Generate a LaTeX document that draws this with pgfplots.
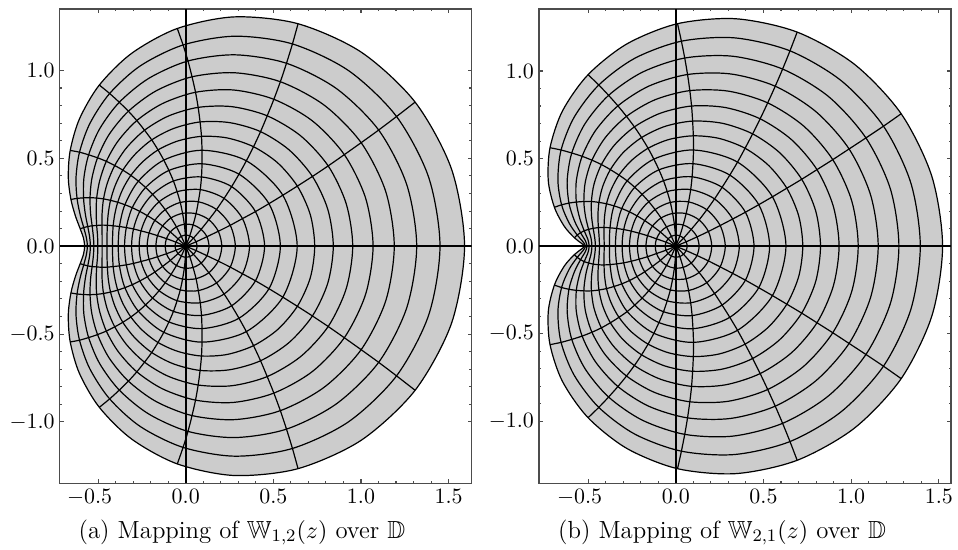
\documentclass[border=0pt]{standalone}
\usepackage[no-math]{fontspec}
\usepackage{pgfplots}
\pgfplotsset{compat=1.18}
\usepackage{amssymb}

\pgfplotsset{
  mapframe/.style={
    scale only axis, width=188.1pt, height=216.6pt,
    axis line style={black!70, line width=0.5pt},
    tick style={black!70, line width=0.5pt},
    tick align=inside,
    major tick length=1.9pt, minor tick length=1.1pt,
    minor x tick num=4, minor y tick num=4,
    xtick={-0.5,0,0.5,1,1.5},
    xticklabels={$\llap{$-$}0.5$,$0.0$,$0.5$,$1.0$,$1.5$},
    ytick={-1,-0.5,0,0.5,1},
    yticklabels={$-1.0$,$-0.5$,$0.0$,$0.5$,$1.0$},
    xticklabel style={inner sep=2.3pt},
    yticklabel style={inner sep=2.1pt},
  },
  region/.style={fill=gray!40, draw=none, smooth cycle},
  ring/.style={black, line width=0.55pt, smooth cycle},
  gridline/.style={black, line width=0.55pt, smooth},
  axisline/.style={black, line width=0.85pt},
}

\begin{document}
\begin{tikzpicture}
\useasboundingbox (-27.26pt,-30.0pt) rectangle (410.1pt,220.7pt);

% ---------------- (a) W_{1,2} ----------------
\begin{axis}[mapframe, at={(0pt,0pt)}, anchor=south west,
  xmin=-0.719, xmax=1.632, ymin=-1.350, ymax=1.350]
\addplot[region] coordinates {(1.591,0) (1.517,0.438) (1.309,0.820) (1.002,1.104) (0.641,1.266) (0.278,1.305) (-0.048,1.239) (-0.308,1.098) (-0.493,0.917) (-0.606,0.725) (-0.659,0.545) (-0.670,0.391) (-0.655,0.266) (-0.629,0.171) (-0.602,0.099) (-0.583,0.045) (-0.577,0) (-0.583,-0.045) (-0.602,-0.099) (-0.629,-0.171) (-0.655,-0.266) (-0.670,-0.391) (-0.659,-0.545) (-0.606,-0.725) (-0.493,-0.917) (-0.308,-1.098) (-0.048,-1.239) (0.278,-1.305) (0.641,-1.266) (1.002,-1.104) (1.309,-0.820) (1.517,-0.438)};
% circles |z| = k/16
\addplot[ring] coordinates {(1.591,0) (1.517,0.438) (1.309,0.820) (1.002,1.104) (0.641,1.266) (0.278,1.305) (-0.048,1.239) (-0.308,1.098) (-0.493,0.917) (-0.606,0.725) (-0.659,0.545) (-0.670,0.391) (-0.655,0.266) (-0.629,0.171) (-0.602,0.099) (-0.583,0.045) (-0.577,0) (-0.583,-0.045) (-0.602,-0.099) (-0.629,-0.171) (-0.655,-0.266) (-0.670,-0.391) (-0.659,-0.545) (-0.606,-0.725) (-0.493,-0.917) (-0.308,-1.098) (-0.048,-1.239) (0.278,-1.305) (0.641,-1.266) (1.002,-1.104) (1.309,-0.820) (1.517,-0.438)};
\addplot[ring] coordinates {(1.451,0) (1.386,0.393) (1.203,0.738) (0.931,0.998) (0.609,1.151) (0.282,1.195) (-0.015,1.145) (-0.258,1.027) (-0.434,0.869) (-0.547,0.698) (-0.606,0.535) (-0.626,0.391) (-0.620,0.272) (-0.602,0.178) (-0.582,0.106) (-0.567,0.049) (-0.561,0) (-0.567,-0.049) (-0.582,-0.106) (-0.602,-0.178) (-0.620,-0.272) (-0.626,-0.391) (-0.606,-0.535) (-0.547,-0.698) (-0.434,-0.869) (-0.258,-1.027) (-0.015,-1.145) (0.282,-1.195) (0.609,-1.151) (0.931,-0.998) (1.203,-0.738) (1.386,-0.393)};
\addplot[ring] coordinates {(1.318,0) (1.261,0.351) (1.101,0.661) (0.860,0.897) (0.575,1.041) (0.282,1.089) (0.013,1.054) (-0.211,0.955) (-0.379,0.819) (-0.491,0.668) (-0.554,0.520) (-0.581,0.388) (-0.583,0.275) (-0.573,0.184) (-0.559,0.112) (-0.548,0.052) (-0.544,0) (-0.548,-0.052) (-0.559,-0.112) (-0.573,-0.184) (-0.583,-0.275) (-0.581,-0.388) (-0.554,-0.520) (-0.491,-0.668) (-0.379,-0.819) (-0.211,-0.955) (0.013,-1.054) (0.282,-1.089) (0.575,-1.041) (0.860,-0.897) (1.101,-0.661) (1.261,-0.351)};
\addplot[ring] coordinates {(1.190,0) (1.141,0.312) (1.001,0.589) (0.791,0.802) (0.540,0.936) (0.279,0.987) (0.036,0.964) (-0.169,0.884) (-0.327,0.768) (-0.437,0.636) (-0.503,0.503) (-0.536,0.382) (-0.546,0.276) (-0.543,0.188) (-0.534,0.116) (-0.527,0.055) (-0.524,0) (-0.527,-0.055) (-0.534,-0.116) (-0.543,-0.188) (-0.546,-0.276) (-0.536,-0.382) (-0.503,-0.503) (-0.437,-0.636) (-0.327,-0.768) (-0.169,-0.884) (0.036,-0.964) (0.279,-0.987) (0.540,-0.936) (0.791,-0.802) (1.001,-0.589) (1.141,-0.312)};
\addplot[ring] coordinates {(1.069,0) (1.026,0.275) (0.905,0.521) (0.723,0.713) (0.503,0.836) (0.273,0.889) (0.056,0.876) (-0.132,0.812) (-0.279,0.715) (-0.385,0.600) (-0.453,0.483) (-0.491,0.372) (-0.508,0.274) (-0.511,0.190) (-0.508,0.118) (-0.503,0.057) (-0.502,0) (-0.503,-0.057) (-0.508,-0.118) (-0.511,-0.190) (-0.508,-0.274) (-0.491,-0.372) (-0.453,-0.483) (-0.385,-0.600) (-0.279,-0.715) (-0.132,-0.812) (0.056,-0.876) (0.273,-0.889) (0.503,-0.836) (0.723,-0.713) (0.905,-0.521) (1.026,-0.275)};
\addplot[ring] coordinates {(0.953,0) (0.916,0.241) (0.813,0.457) (0.656,0.628) (0.465,0.742) (0.264,0.794) (0.071,0.790) (-0.098,0.741) (-0.235,0.660) (-0.336,0.562) (-0.405,0.459) (-0.447,0.360) (-0.469,0.269) (-0.477,0.189) (-0.478,0.120) (-0.477,0.058) (-0.477,0) (-0.477,-0.058) (-0.478,-0.120) (-0.477,-0.189) (-0.469,-0.269) (-0.447,-0.360) (-0.405,-0.459) (-0.336,-0.562) (-0.235,-0.660) (-0.098,-0.741) (0.071,-0.790) (0.264,-0.794) (0.465,-0.742) (0.656,-0.628) (0.813,-0.457) (0.916,-0.241)};
\addplot[ring] coordinates {(0.842,0) (0.811,0.209) (0.723,0.397) (0.590,0.548) (0.427,0.652) (0.252,0.703) (0.082,0.707) (-0.069,0.670) (-0.194,0.605) (-0.290,0.522) (-0.359,0.433) (-0.403,0.344) (-0.429,0.261) (-0.442,0.186) (-0.447,0.119) (-0.449,0.058) (-0.449,0) (-0.449,-0.058) (-0.447,-0.119) (-0.442,-0.186) (-0.429,-0.261) (-0.403,-0.344) (-0.359,-0.433) (-0.290,-0.522) (-0.194,-0.605) (-0.069,-0.670) (0.082,-0.707) (0.252,-0.703) (0.427,-0.652) (0.590,-0.548) (0.723,-0.397) (0.811,-0.209)};
\addplot[ring] coordinates {(0.736,0) (0.711,0.179) (0.637,0.342) (0.525,0.474) (0.387,0.566) (0.237,0.616) (0.090,0.625) (-0.044,0.599) (-0.158,0.548) (-0.247,0.479) (-0.313,0.403) (-0.359,0.325) (-0.388,0.250) (-0.405,0.180) (-0.414,0.116) (-0.417,0.057) (-0.418,0) (-0.417,-0.057) (-0.414,-0.116) (-0.405,-0.180) (-0.388,-0.250) (-0.359,-0.325) (-0.313,-0.403) (-0.247,-0.479) (-0.158,-0.548) (-0.044,-0.599) (0.090,-0.625) (0.237,-0.616) (0.387,-0.566) (0.525,-0.474) (0.637,-0.342) (0.711,-0.179)};
\addplot[ring] coordinates {(0.636,0) (0.554,0.290) (0.346,0.486) (0.093,0.546) (-0.125,0.490) (-0.270,0.370) (-0.347,0.236) (-0.378,0.112) (-0.385,0) (-0.378,-0.112) (-0.347,-0.236) (-0.270,-0.370) (-0.125,-0.490) (0.093,-0.546) (0.346,-0.486) (0.554,-0.290)};
\addplot[ring] coordinates {(0.540,0) (0.475,0.242) (0.304,0.410) (0.093,0.469) (-0.096,0.431) (-0.229,0.334) (-0.305,0.219) (-0.339,0.106) (-0.349,0) (-0.339,-0.106) (-0.305,-0.219) (-0.229,-0.334) (-0.096,-0.431) (0.093,-0.469) (0.304,-0.410) (0.475,-0.242)};
\addplot[ring] coordinates {(0.450,0) (0.398,0.197) (0.262,0.339) (0.090,0.394) (-0.070,0.371) (-0.189,0.295) (-0.262,0.198) (-0.298,0.098) (-0.309,0) (-0.298,-0.098) (-0.262,-0.198) (-0.189,-0.295) (-0.070,-0.371) (0.090,-0.394) (0.262,-0.339) (0.398,-0.197)};
\addplot[ring] coordinates {(0.364,0) (0.324,0.157) (0.219,0.272) (0.083,0.322) (-0.049,0.310) (-0.152,0.253) (-0.219,0.174) (-0.255,0.087) (-0.266,0) (-0.255,-0.087) (-0.219,-0.174) (-0.152,-0.253) (-0.049,-0.310) (0.083,-0.322) (0.219,-0.272) (0.324,-0.157)};
\addplot[ring] coordinates {(0.283,0) (0.254,0.119) (0.176,0.209) (0.072,0.253) (-0.031,0.249) (-0.117,0.208) (-0.176,0.147) (-0.209,0.075) (-0.220,0) (-0.209,-0.075) (-0.176,-0.147) (-0.117,-0.208) (-0.031,-0.249) (0.072,-0.253) (0.176,-0.209) (0.254,-0.119)};
\addplot[ring] coordinates {(0.206,0) (0.186,0.085) (0.132,0.151) (0.059,0.185) (-0.018,0.187) (-0.084,0.161) (-0.132,0.115) (-0.161,0.060) (-0.170,0) (-0.161,-0.060) (-0.132,-0.115) (-0.084,-0.161) (-0.018,-0.187) (0.059,-0.185) (0.132,-0.151) (0.186,-0.085)};
\addplot[ring] coordinates {(0.133,0) (0.121,0.054) (0.088,0.096) (0.042,0.121) (-0.008,0.125) (-0.053,0.110) (-0.088,0.081) (-0.110,0.043) (-0.117,0) (-0.110,-0.043) (-0.088,-0.081) (-0.053,-0.110) (-0.008,-0.125) (0.042,-0.121) (0.088,-0.096) (0.121,-0.054)};
\addplot[ring] coordinates {(0.065,0) (0.059,0.025) (0.044,0.046) (0.023,0.059) (-0.002,0.063) (-0.025,0.056) (-0.044,0.042) (-0.056,0.023) (-0.061,0) (-0.056,-0.023) (-0.044,-0.042) (-0.025,-0.056) (-0.002,-0.063) (0.023,-0.059) (0.044,-0.046) (0.059,-0.025)};
% rays arg z = 22.5 deg steps
\addplot[gridline] coordinates {(0,0) (0.059,0.025) (0.121,0.054) (0.186,0.085) (0.254,0.119) (0.324,0.157) (0.398,0.197) (0.475,0.242) (0.554,0.290) (0.637,0.342) (0.723,0.397) (0.813,0.457) (0.905,0.521) (1.001,0.589) (1.101,0.661) (1.203,0.738) (1.309,0.820)};
\addplot[gridline] coordinates {(0,0) (0.044,0.046) (0.088,0.096) (0.132,0.151) (0.176,0.209) (0.219,0.272) (0.262,0.339) (0.304,0.410) (0.346,0.486) (0.387,0.566) (0.427,0.652) (0.465,0.742) (0.503,0.836) (0.540,0.936) (0.575,1.041) (0.609,1.151) (0.641,1.266)};
\addplot[gridline] coordinates {(0,0) (0.023,0.059) (0.042,0.121) (0.059,0.185) (0.072,0.253) (0.083,0.322) (0.090,0.394) (0.093,0.469) (0.093,0.546) (0.090,0.625) (0.082,0.707) (0.071,0.790) (0.056,0.876) (0.036,0.964) (0.013,1.054) (-0.015,1.145) (-0.048,1.239)};
\addplot[gridline] coordinates {(0,0) (-0.002,0.063) (-0.008,0.125) (-0.018,0.187) (-0.031,0.249) (-0.049,0.310) (-0.070,0.371) (-0.096,0.431) (-0.125,0.490) (-0.158,0.548) (-0.194,0.605) (-0.235,0.660) (-0.279,0.715) (-0.327,0.768) (-0.379,0.819) (-0.434,0.869) (-0.493,0.917)};
\addplot[gridline] coordinates {(0,0) (-0.025,0.056) (-0.053,0.110) (-0.084,0.161) (-0.117,0.208) (-0.152,0.253) (-0.189,0.295) (-0.229,0.334) (-0.270,0.370) (-0.313,0.403) (-0.359,0.433) (-0.405,0.459) (-0.453,0.483) (-0.503,0.503) (-0.554,0.520) (-0.606,0.535) (-0.659,0.545)};
\addplot[gridline] coordinates {(0,0) (-0.044,0.042) (-0.088,0.081) (-0.132,0.115) (-0.176,0.147) (-0.219,0.174) (-0.262,0.198) (-0.305,0.219) (-0.347,0.236) (-0.388,0.250) (-0.429,0.261) (-0.469,0.269) (-0.508,0.274) (-0.546,0.276) (-0.583,0.275) (-0.620,0.272) (-0.655,0.266)};
\addplot[gridline] coordinates {(0,0) (-0.056,0.023) (-0.110,0.043) (-0.161,0.060) (-0.209,0.075) (-0.255,0.087) (-0.298,0.098) (-0.339,0.106) (-0.378,0.112) (-0.414,0.116) (-0.447,0.119) (-0.478,0.120) (-0.508,0.118) (-0.534,0.116) (-0.559,0.112) (-0.582,0.106) (-0.602,0.099)};
\addplot[gridline] coordinates {(0,0) (0.059,-0.025) (0.121,-0.054) (0.186,-0.085) (0.254,-0.119) (0.324,-0.157) (0.398,-0.197) (0.475,-0.242) (0.554,-0.290) (0.637,-0.342) (0.723,-0.397) (0.813,-0.457) (0.905,-0.521) (1.001,-0.589) (1.101,-0.661) (1.203,-0.738) (1.309,-0.820)};
\addplot[gridline] coordinates {(0,0) (0.044,-0.046) (0.088,-0.096) (0.132,-0.151) (0.176,-0.209) (0.219,-0.272) (0.262,-0.339) (0.304,-0.410) (0.346,-0.486) (0.387,-0.566) (0.427,-0.652) (0.465,-0.742) (0.503,-0.836) (0.540,-0.936) (0.575,-1.041) (0.609,-1.151) (0.641,-1.266)};
\addplot[gridline] coordinates {(0,0) (0.023,-0.059) (0.042,-0.121) (0.059,-0.185) (0.072,-0.253) (0.083,-0.322) (0.090,-0.394) (0.093,-0.469) (0.093,-0.546) (0.090,-0.625) (0.082,-0.707) (0.071,-0.790) (0.056,-0.876) (0.036,-0.964) (0.013,-1.054) (-0.015,-1.145) (-0.048,-1.239)};
\addplot[gridline] coordinates {(0,0) (-0.002,-0.063) (-0.008,-0.125) (-0.018,-0.187) (-0.031,-0.249) (-0.049,-0.310) (-0.070,-0.371) (-0.096,-0.431) (-0.125,-0.490) (-0.158,-0.548) (-0.194,-0.605) (-0.235,-0.660) (-0.279,-0.715) (-0.327,-0.768) (-0.379,-0.819) (-0.434,-0.869) (-0.493,-0.917)};
\addplot[gridline] coordinates {(0,0) (-0.025,-0.056) (-0.053,-0.110) (-0.084,-0.161) (-0.117,-0.208) (-0.152,-0.253) (-0.189,-0.295) (-0.229,-0.334) (-0.270,-0.370) (-0.313,-0.403) (-0.359,-0.433) (-0.405,-0.459) (-0.453,-0.483) (-0.503,-0.503) (-0.554,-0.520) (-0.606,-0.535) (-0.659,-0.545)};
\addplot[gridline] coordinates {(0,0) (-0.044,-0.042) (-0.088,-0.081) (-0.132,-0.115) (-0.176,-0.147) (-0.219,-0.174) (-0.262,-0.198) (-0.305,-0.219) (-0.347,-0.236) (-0.388,-0.250) (-0.429,-0.261) (-0.469,-0.269) (-0.508,-0.274) (-0.546,-0.276) (-0.583,-0.275) (-0.620,-0.272) (-0.655,-0.266)};
\addplot[gridline] coordinates {(0,0) (-0.056,-0.023) (-0.110,-0.043) (-0.161,-0.060) (-0.209,-0.075) (-0.255,-0.087) (-0.298,-0.098) (-0.339,-0.106) (-0.378,-0.112) (-0.414,-0.116) (-0.447,-0.119) (-0.478,-0.120) (-0.508,-0.118) (-0.534,-0.116) (-0.559,-0.112) (-0.582,-0.106) (-0.602,-0.099)};
% coordinate axes
\addplot[axisline] coordinates {(-0.719,0) (1.632,0)};
\addplot[axisline] coordinates {(0,-1.350) (0,1.350)};
\end{axis}

% ---------------- (b) W_{2,1} ----------------
\begin{axis}[mapframe, at={(218.8pt,0pt)}, anchor=south west,
  xmin=-0.780, xmax=1.569, ymin=-1.354, ymax=1.354]
\addplot[region] coordinates {(1.521,0) (1.460,0.398) (1.285,0.756) (1.019,1.038) (0.692,1.222) (0.344,1.298) (0.010,1.270) (-0.278,1.155) (-0.500,0.979) (-0.646,0.772) (-0.717,0.562) (-0.727,0.374) (-0.692,0.222) (-0.636,0.114) (-0.578,0.048) (-0.536,0.015) (-0.521,0) (-0.536,-0.015) (-0.578,-0.048) (-0.636,-0.114) (-0.692,-0.222) (-0.727,-0.374) (-0.717,-0.562) (-0.646,-0.772) (-0.500,-0.979) (-0.278,-1.155) (0.010,-1.270) (0.344,-1.298) (0.692,-1.222) (1.019,-1.038) (1.285,-0.756) (1.460,-0.398)};
% circles |z| = k/16
\addplot[ring] coordinates {(1.521,0) (1.460,0.398) (1.285,0.756) (1.019,1.038) (0.692,1.222) (0.344,1.298) (0.010,1.270) (-0.278,1.155) (-0.500,0.979) (-0.646,0.772) (-0.717,0.562) (-0.727,0.374) (-0.692,0.222) (-0.636,0.114) (-0.578,0.048) (-0.536,0.015) (-0.521,0) (-0.536,-0.015) (-0.578,-0.048) (-0.636,-0.114) (-0.692,-0.222) (-0.727,-0.374) (-0.717,-0.562) (-0.646,-0.772) (-0.500,-0.979) (-0.278,-1.155) (0.010,-1.270) (0.344,-1.298) (0.692,-1.222) (1.019,-1.038) (1.285,-0.756) (1.460,-0.398)};
\addplot[ring] coordinates {(1.394,0) (1.340,0.361) (1.184,0.685) (0.944,0.944) (0.651,1.115) (0.336,1.189) (0.032,1.170) (-0.233,1.073) (-0.439,0.920) (-0.579,0.737) (-0.654,0.549) (-0.672,0.377) (-0.651,0.236) (-0.608,0.132) (-0.562,0.064) (-0.528,0.024) (-0.515,0) (-0.528,-0.024) (-0.562,-0.064) (-0.608,-0.132) (-0.651,-0.236) (-0.672,-0.377) (-0.654,-0.549) (-0.579,-0.737) (-0.439,-0.920) (-0.233,-1.073) (0.032,-1.170) (0.336,-1.189) (0.651,-1.115) (0.944,-0.944) (1.184,-0.685) (1.340,-0.361)};
\addplot[ring] coordinates {(1.272,0) (1.224,0.325) (1.084,0.618) (0.871,0.854) (0.609,1.011) (0.326,1.084) (0.051,1.074) (-0.191,0.993) (-0.383,0.861) (-0.517,0.700) (-0.593,0.532) (-0.619,0.377) (-0.609,0.246) (-0.578,0.146) (-0.543,0.077) (-0.516,0.032) (-0.506,0) (-0.516,-0.032) (-0.543,-0.077) (-0.578,-0.146) (-0.609,-0.246) (-0.619,-0.377) (-0.593,-0.532) (-0.517,-0.700) (-0.383,-0.861) (-0.191,-0.993) (0.051,-1.074) (0.326,-1.084) (0.609,-1.011) (0.871,-0.854) (1.084,-0.618) (1.224,-0.325)};
\addplot[ring] coordinates {(1.154,0) (1.111,0.291) (0.988,0.555) (0.800,0.767) (0.567,0.913) (0.314,0.983) (0.067,0.980) (-0.153,0.914) (-0.330,0.801) (-0.457,0.661) (-0.534,0.513) (-0.567,0.373) (-0.567,0.252) (-0.547,0.157) (-0.522,0.088) (-0.501,0.038) (-0.494,0) (-0.501,-0.038) (-0.522,-0.088) (-0.547,-0.157) (-0.567,-0.252) (-0.567,-0.373) (-0.534,-0.513) (-0.457,-0.661) (-0.330,-0.801) (-0.153,-0.914) (0.067,-0.980) (0.314,-0.983) (0.567,-0.913) (0.800,-0.767) (0.988,-0.555) (1.111,-0.291)};
\addplot[ring] coordinates {(1.040,0) (1.003,0.259) (0.895,0.494) (0.730,0.685) (0.524,0.818) (0.300,0.885) (0.080,0.888) (-0.118,0.836) (-0.281,0.741) (-0.401,0.621) (-0.478,0.491) (-0.516,0.366) (-0.524,0.255) (-0.514,0.166) (-0.497,0.096) (-0.483,0.044) (-0.478,0) (-0.483,-0.044) (-0.497,-0.096) (-0.514,-0.166) (-0.524,-0.255) (-0.516,-0.366) (-0.478,-0.491) (-0.401,-0.621) (-0.281,-0.741) (-0.118,-0.836) (0.080,-0.888) (0.300,-0.885) (0.524,-0.818) (0.730,-0.685) (0.895,-0.494) (1.003,-0.259)};
\addplot[ring] coordinates {(0.931,0) (0.898,0.228) (0.805,0.437) (0.661,0.607) (0.481,0.727) (0.285,0.791) (0.090,0.800) (-0.088,0.759) (-0.236,0.681) (-0.349,0.578) (-0.424,0.466) (-0.466,0.355) (-0.481,0.255) (-0.480,0.170) (-0.471,0.102) (-0.462,0.047) (-0.458,0) (-0.462,-0.047) (-0.471,-0.102) (-0.480,-0.170) (-0.481,-0.255) (-0.466,-0.355) (-0.424,-0.466) (-0.349,-0.578) (-0.236,-0.681) (-0.088,-0.759) (0.090,-0.800) (0.285,-0.791) (0.481,-0.727) (0.661,-0.607) (0.805,-0.437) (0.898,-0.228)};
\addplot[ring] coordinates {(0.825,0) (0.798,0.200) (0.718,0.382) (0.593,0.533) (0.438,0.641) (0.268,0.701) (0.096,0.714) (-0.061,0.684) (-0.195,0.620) (-0.300,0.534) (-0.373,0.437) (-0.417,0.340) (-0.438,0.250) (-0.444,0.172) (-0.441,0.106) (-0.437,0.050) (-0.435,0) (-0.437,-0.050) (-0.441,-0.106) (-0.444,-0.172) (-0.438,-0.250) (-0.417,-0.340) (-0.373,-0.437) (-0.300,-0.534) (-0.195,-0.620) (-0.061,-0.684) (0.096,-0.714) (0.268,-0.701) (0.438,-0.641) (0.593,-0.533) (0.718,-0.382) (0.798,-0.200)};
\addplot[ring] coordinates {(0.724,0) (0.701,0.172) (0.633,0.331) (0.528,0.462) (0.395,0.559) (0.248,0.615) (0.100,0.630) (-0.039,0.609) (-0.158,0.559) (-0.254,0.488) (-0.324,0.406) (-0.369,0.322) (-0.395,0.242) (-0.406,0.170) (-0.409,0.107) (-0.409,0.051) (-0.408,0) (-0.409,-0.051) (-0.409,-0.107) (-0.406,-0.170) (-0.395,-0.242) (-0.369,-0.322) (-0.324,-0.406) (-0.254,-0.488) (-0.158,-0.559) (-0.039,-0.609) (0.100,-0.630) (0.248,-0.615) (0.395,-0.559) (0.528,-0.462) (0.633,-0.331) (0.701,-0.172)};
\addplot[ring] coordinates {(0.628,0) (0.551,0.282) (0.352,0.480) (0.101,0.549) (-0.125,0.497) (-0.277,0.373) (-0.352,0.230) (-0.375,0.105) (-0.378,0) (-0.375,-0.105) (-0.352,-0.230) (-0.277,-0.373) (-0.125,-0.497) (0.101,-0.549) (0.352,-0.480) (0.551,-0.282)};
\addplot[ring] coordinates {(0.535,0) (0.473,0.237) (0.308,0.406) (0.098,0.471) (-0.096,0.436) (-0.234,0.336) (-0.308,0.215) (-0.337,0.101) (-0.344,0) (-0.337,-0.101) (-0.308,-0.215) (-0.234,-0.336) (-0.096,-0.436) (0.098,-0.471) (0.308,-0.406) (0.473,-0.237)};
\addplot[ring] coordinates {(0.446,0) (0.397,0.194) (0.264,0.336) (0.093,0.396) (-0.070,0.374) (-0.192,0.296) (-0.264,0.196) (-0.297,0.095) (-0.306,0) (-0.297,-0.095) (-0.264,-0.196) (-0.192,-0.296) (-0.070,-0.374) (0.093,-0.396) (0.264,-0.336) (0.397,-0.194)};
\addplot[ring] coordinates {(0.362,0) (0.324,0.155) (0.221,0.270) (0.085,0.323) (-0.049,0.312) (-0.154,0.254) (-0.221,0.173) (-0.254,0.086) (-0.264,0) (-0.254,-0.086) (-0.221,-0.173) (-0.154,-0.254) (-0.049,-0.312) (0.085,-0.323) (0.221,-0.270) (0.324,-0.155)};
\addplot[ring] coordinates {(0.282,0) (0.253,0.118) (0.177,0.208) (0.073,0.253) (-0.031,0.250) (-0.118,0.209) (-0.177,0.146) (-0.209,0.074) (-0.219,0) (-0.209,-0.074) (-0.177,-0.146) (-0.118,-0.209) (-0.031,-0.250) (0.073,-0.253) (0.177,-0.208) (0.253,-0.118)};
\addplot[ring] coordinates {(0.205,0) (0.186,0.084) (0.133,0.150) (0.059,0.186) (-0.018,0.187) (-0.084,0.161) (-0.133,0.115) (-0.161,0.060) (-0.170,0) (-0.161,-0.060) (-0.133,-0.115) (-0.084,-0.161) (-0.018,-0.187) (0.059,-0.186) (0.133,-0.150) (0.186,-0.084)};
\addplot[ring] coordinates {(0.133,0) (0.121,0.053) (0.088,0.096) (0.042,0.121) (-0.008,0.125) (-0.053,0.110) (-0.088,0.081) (-0.110,0.042) (-0.117,0) (-0.110,-0.042) (-0.088,-0.081) (-0.053,-0.110) (-0.008,-0.125) (0.042,-0.121) (0.088,-0.096) (0.121,-0.053)};
\addplot[ring] coordinates {(0.065,0) (0.059,0.025) (0.044,0.046) (0.023,0.059) (-0.002,0.063) (-0.025,0.056) (-0.044,0.042) (-0.056,0.023) (-0.061,0) (-0.056,-0.023) (-0.044,-0.042) (-0.025,-0.056) (-0.002,-0.063) (0.023,-0.059) (0.044,-0.046) (0.059,-0.025)};
% rays arg z = 22.5 deg steps
\addplot[gridline] coordinates {(0,0) (0.059,0.025) (0.121,0.053) (0.186,0.084) (0.253,0.118) (0.324,0.155) (0.397,0.194) (0.473,0.237) (0.551,0.282) (0.633,0.331) (0.718,0.382) (0.805,0.437) (0.895,0.494) (0.988,0.555) (1.084,0.618) (1.184,0.685) (1.285,0.756)};
\addplot[gridline] coordinates {(0,0) (0.044,0.046) (0.088,0.096) (0.133,0.150) (0.177,0.208) (0.221,0.270) (0.264,0.336) (0.308,0.406) (0.352,0.480) (0.395,0.559) (0.438,0.641) (0.481,0.727) (0.524,0.818) (0.567,0.913) (0.609,1.011) (0.651,1.115) (0.692,1.222)};
\addplot[gridline] coordinates {(0,0) (0.023,0.059) (0.042,0.121) (0.059,0.186) (0.073,0.253) (0.085,0.323) (0.093,0.396) (0.098,0.471) (0.101,0.549) (0.100,0.630) (0.096,0.714) (0.090,0.800) (0.080,0.888) (0.067,0.980) (0.051,1.074) (0.032,1.170) (0.010,1.270)};
\addplot[gridline] coordinates {(0,0) (-0.002,0.063) (-0.008,0.125) (-0.018,0.187) (-0.031,0.250) (-0.049,0.312) (-0.070,0.374) (-0.096,0.436) (-0.125,0.497) (-0.158,0.559) (-0.195,0.620) (-0.236,0.681) (-0.281,0.741) (-0.330,0.801) (-0.383,0.861) (-0.439,0.920) (-0.500,0.979)};
\addplot[gridline] coordinates {(0,0) (-0.025,0.056) (-0.053,0.110) (-0.084,0.161) (-0.118,0.209) (-0.154,0.254) (-0.192,0.296) (-0.234,0.336) (-0.277,0.373) (-0.324,0.406) (-0.373,0.437) (-0.424,0.466) (-0.478,0.491) (-0.534,0.513) (-0.593,0.532) (-0.654,0.549) (-0.717,0.562)};
\addplot[gridline] coordinates {(0,0) (-0.044,0.042) (-0.088,0.081) (-0.133,0.115) (-0.177,0.146) (-0.221,0.173) (-0.264,0.196) (-0.308,0.215) (-0.352,0.230) (-0.395,0.242) (-0.438,0.250) (-0.481,0.255) (-0.524,0.255) (-0.567,0.252) (-0.609,0.246) (-0.651,0.236) (-0.692,0.222)};
\addplot[gridline] coordinates {(0,0) (-0.056,0.023) (-0.110,0.042) (-0.161,0.060) (-0.209,0.074) (-0.254,0.086) (-0.297,0.095) (-0.337,0.101) (-0.375,0.105) (-0.409,0.107) (-0.441,0.106) (-0.471,0.102) (-0.497,0.096) (-0.522,0.088) (-0.543,0.077) (-0.562,0.064) (-0.578,0.048)};
\addplot[gridline] coordinates {(0,0) (0.059,-0.025) (0.121,-0.053) (0.186,-0.084) (0.253,-0.118) (0.324,-0.155) (0.397,-0.194) (0.473,-0.237) (0.551,-0.282) (0.633,-0.331) (0.718,-0.382) (0.805,-0.437) (0.895,-0.494) (0.988,-0.555) (1.084,-0.618) (1.184,-0.685) (1.285,-0.756)};
\addplot[gridline] coordinates {(0,0) (0.044,-0.046) (0.088,-0.096) (0.133,-0.150) (0.177,-0.208) (0.221,-0.270) (0.264,-0.336) (0.308,-0.406) (0.352,-0.480) (0.395,-0.559) (0.438,-0.641) (0.481,-0.727) (0.524,-0.818) (0.567,-0.913) (0.609,-1.011) (0.651,-1.115) (0.692,-1.222)};
\addplot[gridline] coordinates {(0,0) (0.023,-0.059) (0.042,-0.121) (0.059,-0.186) (0.073,-0.253) (0.085,-0.323) (0.093,-0.396) (0.098,-0.471) (0.101,-0.549) (0.100,-0.630) (0.096,-0.714) (0.090,-0.800) (0.080,-0.888) (0.067,-0.980) (0.051,-1.074) (0.032,-1.170) (0.010,-1.270)};
\addplot[gridline] coordinates {(0,0) (-0.002,-0.063) (-0.008,-0.125) (-0.018,-0.187) (-0.031,-0.250) (-0.049,-0.312) (-0.070,-0.374) (-0.096,-0.436) (-0.125,-0.497) (-0.158,-0.559) (-0.195,-0.620) (-0.236,-0.681) (-0.281,-0.741) (-0.330,-0.801) (-0.383,-0.861) (-0.439,-0.920) (-0.500,-0.979)};
\addplot[gridline] coordinates {(0,0) (-0.025,-0.056) (-0.053,-0.110) (-0.084,-0.161) (-0.118,-0.209) (-0.154,-0.254) (-0.192,-0.296) (-0.234,-0.336) (-0.277,-0.373) (-0.324,-0.406) (-0.373,-0.437) (-0.424,-0.466) (-0.478,-0.491) (-0.534,-0.513) (-0.593,-0.532) (-0.654,-0.549) (-0.717,-0.562)};
\addplot[gridline] coordinates {(0,0) (-0.044,-0.042) (-0.088,-0.081) (-0.133,-0.115) (-0.177,-0.146) (-0.221,-0.173) (-0.264,-0.196) (-0.308,-0.215) (-0.352,-0.230) (-0.395,-0.242) (-0.438,-0.250) (-0.481,-0.255) (-0.524,-0.255) (-0.567,-0.252) (-0.609,-0.246) (-0.651,-0.236) (-0.692,-0.222)};
\addplot[gridline] coordinates {(0,0) (-0.056,-0.023) (-0.110,-0.042) (-0.161,-0.060) (-0.209,-0.074) (-0.254,-0.086) (-0.297,-0.095) (-0.337,-0.101) (-0.375,-0.105) (-0.409,-0.107) (-0.441,-0.106) (-0.471,-0.102) (-0.497,-0.096) (-0.522,-0.088) (-0.543,-0.077) (-0.562,-0.064) (-0.578,-0.048)};
% coordinate axes
\addplot[axisline] coordinates {(-0.780,0) (1.569,0)};
\addplot[axisline] coordinates {(0,-1.354) (0,1.354)};
\end{axis}

\node[anchor=base, font=\fontsize{11.3}{13}\selectfont] at (83.2pt,-25pt) {(a) Mapping of $\mathbb{W}_{1,2}(z)$ over $\mathbb{D}$};
\node[anchor=base, font=\fontsize{11.3}{13}\selectfont] at (302.4pt,-25pt) {(b) Mapping of $\mathbb{W}_{2,1}(z)$ over $\mathbb{D}$};
\end{tikzpicture}
\end{document}
